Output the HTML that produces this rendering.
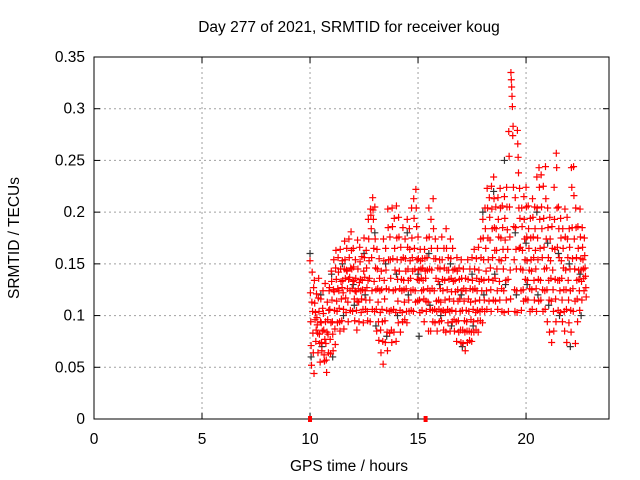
<!DOCTYPE html>
<html><head><meta charset="utf-8">
<style>
html,body{margin:0;padding:0;background:#fff;}
svg{display:block;font-family:"Liberation Sans",sans-serif;}
</style></head>
<body>
<svg id="chart" width="640" height="480" viewBox="0 0 640 480">
<text x="349" y="32" font-size="15.5" text-anchor="middle" fill="#000">Day 277 of 2021, SRMTID for receiver koug</text>
<text x="349" y="471" font-size="15.5" text-anchor="middle" fill="#000">GPS time / hours</text>
<text x="19" y="238" font-size="15.5" text-anchor="middle" fill="#000" transform="rotate(-90 19 238)">SRMTID / TECUs</text>
<g id="grid"></g>
<g id="axes"></g>
<g id="black"></g>
<g id="red"></g>
</svg>
<script>
const xTicks=[0,5,10,15,20];
const yTicks=[0,0.05,0.1,0.15,0.2,0.25,0.3,0.35];
const yTickLabels=["0","0.05","0.1","0.15","0.2","0.25","0.3","0.35"];
const redHours=[10.0,10.1,10.2,10.3,10.4,10.5,10.6,10.7,10.8,10.9,11.0,11.1,11.2,11.3,11.4,11.5,11.6,11.7,11.8,11.9,12.0,12.1,12.2,12.3,12.4,12.5,12.6,12.7,12.8,12.9,13.0,13.1,13.2,13.3,13.4,13.5,13.6,13.7,13.8,13.9,14.0,14.1,14.2,14.3,14.4,14.5,14.6,14.7,14.8,14.9,15.0,15.1,15.2,15.3,15.4,15.5,15.6,15.7,15.8,15.9,16.0,16.1,16.2,16.3,16.4,16.5,16.6,16.7,16.8,16.9,17.0,17.1,17.2,17.3,17.4,17.5,17.6,17.7,17.8,17.9,18.0,18.1,18.2,18.3,18.4,18.5,18.6,18.7,18.8,18.9,19.0,19.1,19.2,19.3,19.4,19.5,19.6,19.7,19.8,19.9,20.0,20.1,20.2,20.3,20.4,20.5,20.6,20.7,20.8,20.9,21.0,21.1,21.2,21.3,21.4,21.5,21.6,21.7,21.8,21.9,22.0,22.1,22.2,22.3,22.4,22.5,22.6,22.7];
const redValues=[
[0.153,0.122,0.094,0.071,0.052,0.113],[0.142,0.104,0.083,0.064,0.127,0.044],[0.134,0.112,0.096,0.103,0.075,0.086],[0.121,0.098,0.091,0.083,0.064,0.117],[0.136,0.104,0.082,0.073,0.055,0.094],
[0.116,0.093,0.074,0.066,0.085,0.107],[0.124,0.102,0.086,0.062,0.056,0.077],[0.131,0.094,0.073,0.057,0.045,0.084],[0.113,0.096,0.082,0.064,0.105,0.124],[0.127,0.106,0.077,0.063,0.093,0.143],
[0.133,0.115,0.094,0.082,0.066,0.125],[0.154,0.123,0.105,0.087,0.072,0.146],[0.163,0.135,0.114,0.104,0.093,0.126],[0.156,0.142,0.124,0.107,0.094,0.085],[0.164,0.145,0.133,0.116,0.095,0.127],
[0.153,0.134,0.122,0.106,0.087,0.145],[0.172,0.154,0.136,0.117,0.103,0.144],[0.165,0.143,0.126,0.113,0.094,0.135],[0.174,0.156,0.137,0.124,0.105,0.146],[0.181,0.163,0.145,0.126,0.104,0.133],
[0.165,0.147,0.134,0.116,0.095,0.124],[0.154,0.136,0.123,0.105,0.086,0.114],[0.173,0.145,0.126,0.113,0.094,0.132],[0.166,0.152,0.135,0.124,0.103,0.116],[0.157,0.134,0.125,0.106,0.093,0.143],
[0.175,0.156,0.137,0.124,0.106,0.115],[0.163,0.146,0.127,0.104,0.095,0.134],[0.193,0.174,0.153,0.136,0.115,0.094],[0.203,0.197,0.184,0.156,0.124,0.106],[0.214,0.202,0.193,0.165,0.133,0.104],
[0.205,0.174,0.146,0.125,0.106,0.085],[0.164,0.145,0.126,0.113,0.094,0.076],[0.155,0.136,0.124,0.103,0.086,0.064],[0.143,0.125,0.106,0.094,0.075,0.053],[0.174,0.153,0.134,0.116,0.095,0.074],
[0.165,0.144,0.126,0.105,0.084,0.066],[0.203,0.185,0.154,0.125,0.104,0.083],[0.176,0.154,0.136,0.105,0.086,0.074],[0.204,0.186,0.155,0.124,0.106,0.084],[0.194,0.165,0.144,0.125,0.103,0.075],
[0.206,0.175,0.154,0.135,0.114,0.093],[0.195,0.176,0.143,0.126,0.105,0.084],[0.166,0.154,0.135,0.124,0.103,0.094],[0.185,0.156,0.134,0.125,0.113,0.096],[0.174,0.155,0.143,0.126,0.104,0.093],
[0.193,0.166,0.145,0.134,0.115,0.104],[0.184,0.164,0.153,0.136,0.124,0.105],[0.204,0.175,0.156,0.143,0.125,0.104],[0.213,0.194,0.165,0.145,0.124,0.113],[0.222,0.204,0.186,0.154,0.135,0.114],
[0.176,0.155,0.144,0.134,0.115,0.103],[0.164,0.153,0.145,0.136,0.124,0.105],[0.155,0.146,0.134,0.125,0.116,0.094],[0.164,0.155,0.143,0.136,0.114,0.104],[0.175,0.156,0.144,0.126,0.113,0.085],
[0.204,0.176,0.145,0.124,0.106,0.085],[0.193,0.165,0.144,0.126,0.105,0.094],[0.213,0.184,0.155,0.124,0.106,0.093],[0.174,0.155,0.136,0.114,0.104,0.085],[0.165,0.146,0.133,0.115,0.106,0.094],
[0.154,0.145,0.126,0.113,0.104,0.095],[0.176,0.154,0.135,0.124,0.105,0.086],[0.165,0.146,0.134,0.115,0.103,0.084],[0.184,0.165,0.144,0.125,0.106,0.093],[0.156,0.144,0.135,0.116,0.104,0.085],
[0.174,0.155,0.136,0.123,0.105,0.094],[0.165,0.144,0.133,0.114,0.096,0.085],[0.145,0.134,0.123,0.104,0.094,0.075],[0.156,0.143,0.125,0.114,0.095,0.084],[0.146,0.135,0.116,0.104,0.086,0.074],
[0.154,0.136,0.124,0.105,0.086,0.073],[0.145,0.126,0.114,0.095,0.084,0.066],[0.136,0.124,0.105,0.094,0.085,0.074],[0.154,0.135,0.116,0.104,0.085,0.076],[0.145,0.126,0.113,0.096,0.084,0.075],
[0.156,0.134,0.125,0.106,0.094,0.084],[0.164,0.145,0.126,0.114,0.103,0.086],[0.155,0.136,0.124,0.105,0.095,0.084],[0.166,0.144,0.133,0.115,0.104,0.095],[0.174,0.156,0.135,0.124,0.106,0.093],
[0.193,0.175,0.154,0.134,0.115,0.104],[0.204,0.184,0.165,0.143,0.124,0.106],[0.223,0.204,0.175,0.154,0.135,0.114],[0.214,0.195,0.173,0.146,0.125,0.104],[0.225,0.203,0.184,0.156,0.134,0.115],
[0.234,0.213,0.185,0.163,0.136,0.114],[0.205,0.184,0.163,0.145,0.124,0.106],[0.214,0.193,0.176,0.154,0.133,0.115],[0.223,0.204,0.175,0.153,0.126,0.104],[0.206,0.185,0.164,0.145,0.124,0.103],
[0.215,0.194,0.173,0.156,0.134,0.115],[0.224,0.205,0.183,0.164,0.135,0.104],[0.278,0.254,0.205,0.176,0.144,0.116],[0.335,0.328,0.321,0.312,0.302,0.274],[0.283,0.224,0.186,0.154,0.125,0.104],
[0.214,0.185,0.164,0.145,0.124,0.103],[0.279,0.266,0.253,0.238,0.204,0.165],[0.223,0.194,0.166,0.145,0.124,0.105],[0.204,0.186,0.163,0.144,0.125,0.114],[0.215,0.193,0.174,0.154,0.135,0.116],
[0.224,0.205,0.176,0.153,0.134,0.115],[0.206,0.184,0.165,0.144,0.126,0.104],[0.194,0.175,0.154,0.143,0.125,0.106],[0.213,0.195,0.176,0.156,0.134,0.115],[0.205,0.184,0.163,0.145,0.126,0.104],
[0.234,0.204,0.175,0.154,0.135,0.114],[0.243,0.224,0.193,0.165,0.134,0.115],[0.236,0.205,0.184,0.156,0.125,0.104],[0.225,0.194,0.166,0.145,0.124,0.106],[0.244,0.213,0.174,0.146,0.125,0.094],
[0.204,0.185,0.156,0.134,0.115,0.084],[0.195,0.174,0.153,0.136,0.114,0.074],[0.186,0.165,0.144,0.125,0.104,0.085],[0.224,0.193,0.164,0.135,0.116,0.094],[0.257,0.243,0.204,0.166,0.134,0.105],
[0.205,0.184,0.156,0.134,0.124,0.103],[0.194,0.175,0.153,0.136,0.115,0.094],[0.184,0.165,0.146,0.125,0.104,0.085],[0.203,0.176,0.144,0.125,0.106,0.074],[0.195,0.174,0.156,0.134,0.115,0.093],
[0.184,0.166,0.145,0.124,0.105,0.084],[0.243,0.224,0.185,0.155,0.126,0.104],[0.244,0.216,0.174,0.145,0.114,0.073],[0.204,0.185,0.156,0.134,0.116,0.094],[0.186,0.165,0.144,0.135,0.124,0.105],
[0.203,0.176,0.155,0.144,0.133,0.115],[0.185,0.166,0.154,0.145,0.136,0.124],[0.175,0.158,0.146,0.138,0.127,0.118]];
const blackHours=[10.0,10.5,11.0,11.5,12.0,12.5,13.0,13.5,14.0,14.5,15.0,15.5,16.0,16.5,17.0,17.5,18.0,18.5,19.0,19.5,20.0,20.5,21.0,21.5,22.0,22.5];
const blackValues=[[0.16,0.06],[0.12,0.07],[0.14,0.06],[0.15,0.1],[0.13,0.11],[0.16,0.12],[0.18,0.09],[0.15,0.08],[0.14,0.1],[0.18,0.12],[0.14,0.08],[0.16,0.11],[0.13,0.1],[0.15,0.09],[0.12,0.07],[0.14,0.09],[0.2,0.12],[0.22,0.14],[0.25,0.13],[0.18,0.12],[0.17,0.13],[0.2,0.12],[0.17,0.11],[0.16,0.1],[0.15,0.07],[0.14,0.1]];
const zeroHours=[10.0,15.35];

const L=94,R=609,T=57,B=419,XMAX=23.84,YMAX=0.35;
const X=h=>L+h/XMAX*(R-L);
const Y=v=>B-v/YMAX*(B-T);
const NS="http://www.w3.org/2000/svg";
function mk(tag,attrs,parent){const e=document.createElementNS(NS,tag);for(const k in attrs)e.setAttribute(k,attrs[k]);parent.appendChild(e);return e;}
const grid=document.getElementById('grid'),axes=document.getElementById('axes');
yTicks.forEach((v,i)=>{
  if(i>0&&i<yTicks.length-1){const g=mk('line',{x1:L,x2:R,y1:Y(v),y2:Y(v),stroke:'#a0a0a0','stroke-dasharray':'2,3'},grid);
  
  }
  mk('line',{x1:L,x2:L+6,y1:Y(v),y2:Y(v),stroke:'#000'},axes);
  mk('line',{x1:R,x2:R-6,y1:Y(v),y2:Y(v),stroke:'#000'},axes);
  const t=mk('text',{x:L-9,y:Y(v)+5,'font-size':15.5,'text-anchor':'end'},axes);
  t.textContent=yTickLabels[i];
  
  
});
xTicks.forEach(h=>{
  if(h>0){const g=mk('line',{x1:X(h),x2:X(h),y1:T,y2:B,stroke:'#a0a0a0','stroke-dasharray':'2,3'},grid);
  
  }
  mk('line',{x1:X(h),x2:X(h),y1:B,y2:B-6,stroke:'#000'},axes);
  mk('line',{x1:X(h),x2:X(h),y1:T,y2:T+6,stroke:'#000'},axes);
  const t=mk('text',{x:X(h),y:B+25,'font-size':15.5,'text-anchor':'middle'},axes);
  t.textContent=String(h);
  
  
});
const frame=mk('rect',{x:L,y:T,width:R-L,height:B-T,fill:'none',stroke:'#000'},axes);


function plus(g,h,v,col){
  const x=X(h),y=Y(v);
  const p=mk('path',{d:`M${x-3.5},${y}H${x+3.5}M${x},${y-3.5}V${y+3.5}`,stroke:col,'stroke-width':1.2},g);
  
  
}
const bg=document.getElementById('black'),rg=document.getElementById('red');
blackHours.forEach((h,i)=>{const vs=blackValues[i]||[];vs.forEach((v,j)=>plus(bg,h+0.05*j,v,'#333'));});
redHours.forEach((h,i)=>{const vs=redValues[i]||[];vs.forEach((v,j)=>plus(rg,h+0.017*j,v,'#f00'));});
zeroHours.forEach(h=>{
  const r=mk('rect',{x:X(h)-2,y:B-3,width:4,height:6,fill:'#f00'},rg);
  
  
});
</script>
</body></html>
